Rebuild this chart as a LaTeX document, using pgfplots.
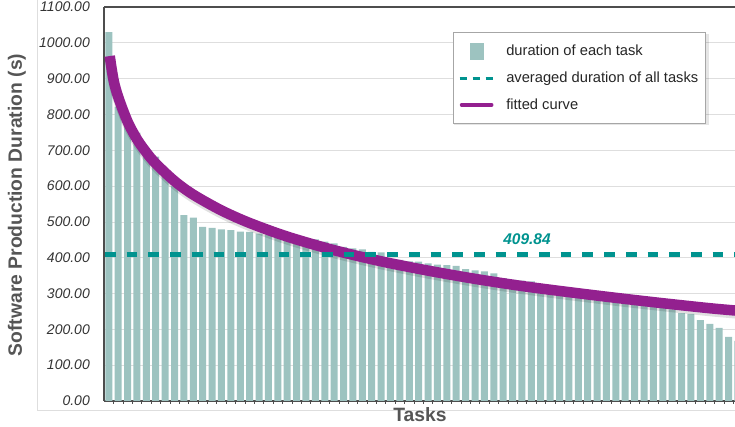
\documentclass[border=0pt]{standalone}
\usepackage{fontspec}
\setmainfont{Liberation Sans}
\usepackage{pgfplots}
\pgfplotsset{compat=1.18}

\definecolor{barfill}{HTML}{9DC3C0}
\definecolor{avgteal}{HTML}{00938F}
\definecolor{fitpurple}{HTML}{93208F}
\definecolor{axisgray}{HTML}{4D4D4D}
\definecolor{gridgray}{HTML}{DEDEDE}
\definecolor{labelgray}{HTML}{555555}

\begin{document}
\begin{tikzpicture}
% light outer frame of the chart area
\draw[gridgray, line width=0.8pt] (37pt,427pt) -- (37pt,17pt) -- (735pt,17pt);
\begin{axis}[
  at={(104pt,26pt)}, anchor=south west,
  scale only axis, width=631pt, height=394pt,
  xmin=0.49, xmax=67.69, ymin=0, ymax=1100,
  axis x line*=bottom, axis y line*=left,
  axis line style={axisgray, line width=1.1pt},
  ytick={0,100,...,1100},
  ymajorgrids, grid style={gridgray, line width=0.8pt},
  ytick style={draw=none},
  xtick={1.5,2.5,...,67.5}, xticklabels={},
  xtick style={axisgray, line width=0.6pt},
  tick align=outside, major tick length=3pt,
  yticklabel style={font=\fontsize{14}{14}\selectfont\itshape, text=black!80,
    inner sep=0pt, xshift=-11pt},
  /pgf/number format/.cd, fixed, fixed zerofill, precision=2, 1000 sep={},
    assume math mode=true,
  /pgfplots/.cd,
  legend style={at={(0.5526,0.9358)}, anchor=north west,
    draw=gray!70, fill=white, line width=0.6pt,
    font=\fontsize{14.7}{17}\selectfont, text=black!85,
    inner xsep=5pt, inner ysep=10pt, row sep=10.5pt,
    /tikz/every odd column/.append style={column sep=10pt}},
  legend cell align=left,
]
\draw[axisgray, line width=1.1pt] (rel axis cs:0,1) -- (rel axis cs:1,1);
% shadow behind the legend box
\fill[black, opacity=0.1] (rel axis cs:0.5550,0.700) rectangle (rel axis cs:0.9590,0.9320);

\addplot[ybar, bar width=7pt, bar shift=0pt, fill=barfill, draw=none,
  legend image code/.code={\fill[barfill] (10pt,-8.5pt) rectangle (24pt,8.5pt);}]
  coordinates {
  (1,1030) (2,822) (3,775) (4,749) (5,700) (6,682) (7,640) (8,600)
  (9,519) (10,512) (11,486) (12,483) (13,479) (14,477) (15,473)
  (16,472) (17,467) (18,464) (19,461) (20,458) (21,456) (22,454)
  (23,451) (24,445) (25,440) (26,430) (27,426) (28,423) (29,416) (30,415)
  (31,396) (32,394) (33,390) (34,389) (35,384) (36,381) (37,379) (38,377)
  (39,368) (40,365) (41,362) (42,356) (43,343) (44,338) (45,336) (46,334)
  (47,321) (48,318) (49,316) (50,312) (51,308) (52,304) (53,300) (54,296)
  (55,292) (56,288) (57,284) (58,280) (59,276) (60,266) (61,256)
  (62,245) (63,243) (64,226) (65,215) (66,204) (67,179) (68,168)
  };
\addlegendentry{duration of each task}

\addlegendimage{legend image code/.code={\draw[avgteal, line width=3.3pt,
  dash pattern=on 7.5pt off 5.5pt] (0pt,0pt) -- (33pt,0pt);}}
\addlegendentry{averaged duration of all tasks}

% soft shadow under the fitted curve
\addplot[black, opacity=0.12, line width=10pt, smooth, yshift=-3pt, forget plot]
  coordinates {
  (1.1,963) (1.5,897) (2,849) (3,780) (4,731) (5,694) (6,663) (8,614)
  (10,576) (13,532) (16,497) (20,459) (25,421) (30,390) (35,364)
  (40,341) (45,321) (50,304) (55,288) (60,273) (65,259) (68,252)
  };

\addplot[fitpurple, line width=10.5pt, smooth,
  legend image code/.code={\draw[fitpurple, line width=3.7pt, line cap=round]
  (2pt,0pt) -- (32pt,0pt);}]
  coordinates {
  (1.1,963) (1.5,897) (2,849) (3,780) (4,731) (5,694) (6,663) (8,614)
  (10,576) (13,532) (16,497) (20,459) (25,421) (30,390) (35,364)
  (40,341) (45,321) (50,304) (55,288) (60,273) (65,259) (68,252)
  };
\addlegendentry{fitted curve}

\addplot[avgteal, line width=5pt, dash pattern=on 10.7pt off 11pt, forget plot]
  coordinates {(0.6,409.84) (67.69,409.84)};

\node[font=\fontsize{15.5}{15.5}\selectfont\bfseries\itshape, text=avgteal]
  at (axis cs:45.54,453) {409.84};
\end{axis}
\node[rotate=90, font=\fontsize{19.3}{19.3}\selectfont\bfseries, text=labelgray]
  at (17pt,222pt) {Software Production Duration (s)};
\node[anchor=base, font=\fontsize{19.3}{19.3}\selectfont\bfseries, text=labelgray]
  at (420pt,5pt) {Tasks};
\pgfresetboundingbox
\path[use as bounding box] (0,0) rectangle (735pt,427pt);
\end{tikzpicture}
\end{document}
